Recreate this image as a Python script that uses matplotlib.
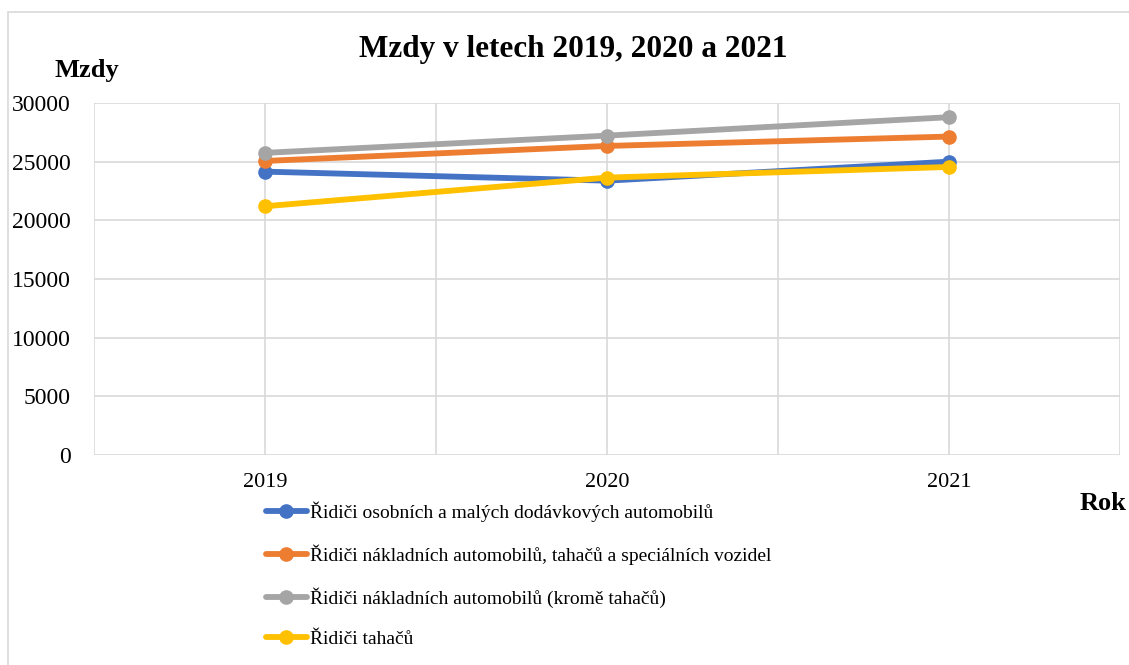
import numpy as np
import matplotlib.pyplot as plt
from matplotlib.patches import Rectangle

years = ['2019', '2020', '2021']
labels = [
    'Řidiči osobních a malých dodávkových automobilů',
    'Řidiči nákladních automobilů, tahačů a speciálních vozidel',
    'Řidiči nákladních automobilů (kromě tahačů)',
    'Řidiči tahačů',
]
osobni = [24150, 23380, 25000]
nakladni_vse = [25060, 26340, 27140]
nakladni_bez = [25750, 27220, 28790]
tahace = [21200, 23640, 24550]
colors = ['#4472C4', '#ED7D31', '#A5A5A5', '#FFC000']

plt.rcParams['font.family'] = ['Liberation Serif', 'DejaVu Serif']

W, H = 1129, 665
fig = plt.figure(figsize=(W / 100, H / 100), dpi=100)
fig.patches.append(Rectangle((8 / W, -0.1), 1.2, 1 - 12 / H + 0.1,
                             transform=fig.transFigure, fill=False,
                             edgecolor='#D9D9D9', lw=1.2))

ax = fig.add_axes([94 / W, 1 - 455 / H, 1026 / W, 352 / H])
x = np.arange(len(years))
for vals, c, lab in zip([osobni, nakladni_vse, nakladni_bez, tahace], colors, labels):
    ax.plot(x, vals, color=c, lw=4.2, marker='o', markersize=9.5, label=lab,
            solid_capstyle='round')

ax.set_xlim(-0.5, 2.5)
ax.set_ylim(0, 30000)
ax.set_yticks(range(0, 30001, 5000))
ax.set_xticks(x)
ax.set_xticklabels(years)
ax.set_xticks(np.arange(-0.5, 2.51, 0.5), minor=True)
ax.grid(True, which='minor', axis='x', color='#D9D9D9', lw=1.2)
ax.grid(True, which='major', axis='both', color='#D9D9D9', lw=1.2)
ax.set_axisbelow(True)
for s in ax.spines.values():
    s.set_visible(False)
ax.tick_params(which='both', length=0)
ax.tick_params(axis='y', pad=17, labelsize=17)
ax.tick_params(axis='x', pad=13, labelsize=16)

fig.text(573 / W, 1 - 50 / H, 'Mzdy v letech 2019, 2020 a 2021', ha='center',
         va='center', fontsize=22.5, fontweight='bold')
fig.text(87 / W, 1 - 70 / H, 'Mzdy', ha='center', va='center',
         fontsize=19, fontweight='bold')
fig.text(1103 / W, 1 - 503 / H, 'Rok', ha='center', va='center',
         fontsize=19, fontweight='bold')

fig.legend(loc='upper left', bbox_to_anchor=(258 / W, 1 - 494 / H),
           frameon=False, fontsize=14, handlelength=2.1, handletextpad=0.15,
           labelspacing=1.15, borderaxespad=0)

plt.savefig('out.png', dpi=100)
plt.close()
